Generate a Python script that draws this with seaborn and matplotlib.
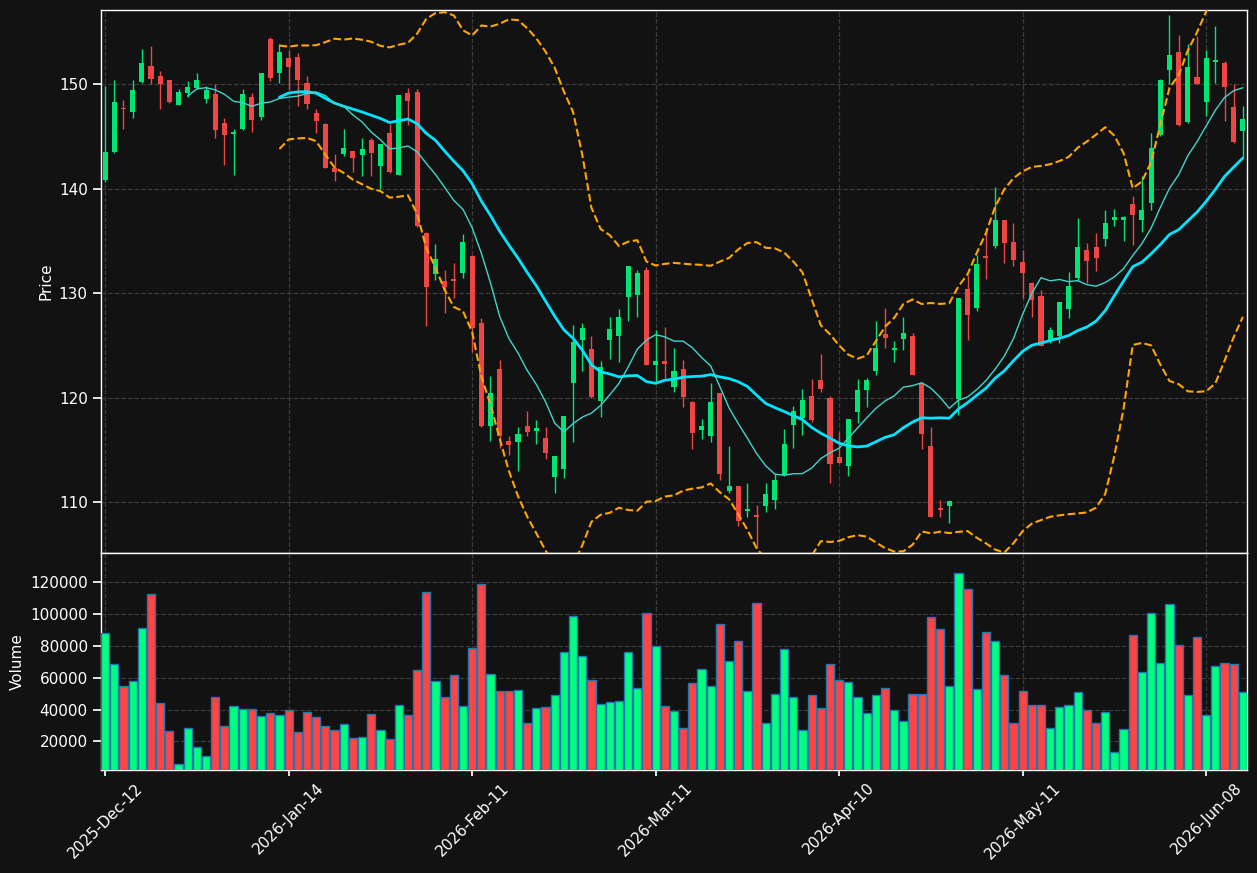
import numpy as np
import pandas as pd
import matplotlib
matplotlib.use("Agg")
import matplotlib.pyplot as plt
import seaborn as sns
from matplotlib.ticker import FuncFormatter

# -------------------- data --------------------
opens = [140.8, 143.5, 147.75, 147.3, 150.2, 151.7, 150.8, 150.4, 148.0, 149.2,
         149.6, 148.6, 149.1, 146.3, 145.2, 145.7, 148.8, 146.9, 154.3, 151.1,
         152.5, 152.6, 150.1, 147.2, 146.2, 142.0, 143.3, 143.6, 143.2, 144.7,
         142.2, 145.3, 141.3, 149.2, 149.3, 135.8, 131.8, 131.2, 131.4, 131.9,
         133.6, 127.2, 117.3, 122.8, 115.9, 115.8, 117.3, 116.8, 116.2, 112.4,
         113.2, 121.4, 125.5, 124.7, 119.7, 125.5, 125.9, 129.6, 129.8, 132.2,
         123.1, 123.5, 121.0, 122.8, 119.6, 116.9, 116.3, 120.5, 111.1, 111.6,
         109.2, 108.8, 109.6, 110.2, 112.6, 117.4, 118.1, 120.2, 121.7, 120.0,
         114.3, 113.5, 118.6, 120.7, 122.6, 126.1, 124.6, 125.6, 125.9, 121.4,
         115.4, 109.5, 109.6, 119.9, 130.4, 128.6, 133.6, 134.5, 137.0, 134.9,
         133.0, 131.0, 129.7, 125.4, 125.9, 128.5, 131.5, 134.1, 134.4, 135.2,
         137.0, 137.0, 138.5, 137.0, 138.6, 145.1, 151.4, 153.1, 146.4, 150.7,
         148.3, 152.1, 152.0, 147.8, 145.5]
highs = [149.8, 150.4, 148.5, 150.4, 153.4, 153.7, 151.3, 150.45, 149.5, 150.3,
         151.1, 149.8, 150.0, 146.8, 145.7, 149.5, 149.2, 151.1, 154.5, 153.8,
         153.3, 153.0, 150.8, 147.6, 146.3, 143.3, 145.7, 143.6, 144.9, 144.9,
         144.3, 146.2, 149.0, 149.6, 149.5, 135.9, 134.7, 132.2, 132.9, 135.7,
         133.7, 127.6, 122.1, 123.6, 116.3, 117.2, 118.7, 117.9, 117.2, 114.4,
         118.3, 127.0, 127.2, 125.9, 123.5, 127.7, 128.5, 132.6, 132.2, 132.5,
         126.5, 126.8, 124.8, 123.6, 119.7, 118.0, 121.4, 120.5, 115.4, 111.6,
         111.8, 109.7, 111.8, 112.7, 117.0, 119.2, 120.8, 121.8, 124.2, 120.2,
         116.7, 118.0, 121.8, 121.9, 127.3, 128.6, 125.4, 127.7, 126.2, 121.4,
         117.2, 110.2, 110.1, 129.5, 131.7, 133.7, 136.2, 140.2, 137.0, 136.7,
         134.1, 131.1, 130.3, 126.8, 129.2, 132.0, 137.2, 134.8, 135.8, 138.0,
         138.1, 137.35, 139.3, 141.2, 145.3, 150.5, 156.6, 154.7, 153.8, 154.6,
         153.3, 155.6, 152.2, 150.0, 147.9]
lows = [140.6, 143.4, 145.7, 146.8, 150.1, 150.0, 147.6, 148.2, 148.0, 148.8,
        149.5, 148.2, 144.9, 142.3, 141.3, 145.6, 145.4, 146.6, 150.3, 150.1,
        149.4, 147.9, 147.6, 145.3, 142.0, 140.7, 143.1, 141.6, 141.2, 141.2,
        140.0, 141.5, 141.3, 146.1, 136.3, 126.9, 131.3, 128.1, 129.5, 131.5,
        124.4, 117.2, 115.9, 115.2, 114.5, 113.0, 116.3, 115.6, 114.1, 110.9,
        112.3, 115.8, 122.6, 120.0, 118.2, 123.7, 123.4, 127.3, 127.7, 123.1,
        121.5, 121.9, 120.6, 119.1, 115.1, 116.1, 115.8, 112.1, 110.9, 107.7,
        108.6, 105.6, 109.1, 109.4, 112.5, 115.2, 116.4, 117.7, 120.6, 111.8,
        113.8, 112.5, 117.6, 119.1, 122.2, 124.8, 123.4, 124.6, 122.2, 115.1,
        108.6, 108.6, 108.0, 118.4, 125.5, 128.3, 131.4, 134.3, 132.9, 132.6,
        129.5, 127.7, 125.0, 125.2, 125.2, 127.6, 131.2, 131.0, 132.1, 134.5,
        136.4, 135.0, 134.6, 135.9, 138.0, 145.0, 150.0, 146.0, 146.3, 150.0,
        147.0, 150.1, 146.5, 144.4, 143.0]
closes = [143.5, 148.3, 147.65, 149.4, 152.0, 150.5, 150.0, 148.3, 149.3, 149.7,
          150.4, 149.4, 145.6, 145.1, 145.4, 149.1, 146.6, 151.1, 150.6, 153.1,
          151.6, 150.4, 148.1, 146.5, 142.0, 141.6, 143.9, 142.9, 143.8, 143.4,
          144.3, 141.6, 149.0, 148.4, 136.4, 130.6, 133.3, 130.6, 131.2, 134.9,
          126.7, 117.3, 120.5, 116.3, 115.5, 116.5, 116.7, 117.1, 114.7, 114.4,
          118.3, 125.3, 126.7, 120.1, 122.9, 126.6, 127.7, 132.6, 131.9, 123.1,
          123.5, 123.2, 122.6, 120.1, 116.6, 117.3, 119.6, 112.7, 111.6, 108.2,
          109.4, 108.6, 110.8, 112.1, 115.6, 118.7, 119.8, 117.9, 120.8, 113.7,
          113.8, 118.0, 120.7, 121.7, 124.8, 125.7, 124.8, 126.2, 122.2, 116.5,
          108.6, 109.3, 110.1, 129.5, 127.9, 132.8, 133.4, 137.0, 134.8, 133.2,
          131.9, 129.4, 125.0, 126.5, 129.2, 130.7, 134.4, 133.1, 133.4, 136.7,
          137.3, 137.3, 137.5, 138.0, 143.9, 150.4, 152.8, 146.1, 151.6, 150.0,
          152.5, 152.3, 149.7, 144.5, 146.7]
volumes = [87900, 68400, 54600, 57700, 91100, 112500, 43900, 26300, 5500, 28200,
           16200, 10600, 47900, 29600, 42200, 40100, 40100, 35700, 37600, 36400,
           39500, 25900, 38200, 35100, 29400, 26900, 30700, 21900, 22500, 37000,
           26900, 21300, 42800, 36400, 64700, 113700, 57700, 47900, 61500, 42000,
           78500, 118700, 62100, 51400, 51400, 52100, 31300, 40800, 41400, 48900,
           76000, 98600, 73500, 58400, 43300, 44500, 45200, 76000, 53300, 100500,
           79700, 42000, 38900, 28200, 56500, 65300, 54600, 93600, 70300, 82900,
           51400, 106800, 31300, 49600, 77900, 47700, 26900, 48900, 40800, 68400,
           58400, 57100, 47700, 37600, 48900, 53300, 39500, 32600, 49600, 49600,
           98000, 90400, 54600, 125700, 115600, 52700, 88600, 82900, 61500, 31300,
           51400, 42600, 42600, 28200, 41400, 42600, 50800, 39500, 31300, 38200,
           13100, 27500, 86700, 63400, 100500, 69300, 106200, 80400, 48900, 85400,
           36400, 67200, 69300, 68400, 50800]
tick_pos = [0, 20, 40, 60, 80, 100, 120]
tick_labels = ["2025-Dec-12", "2026-Jan-14", "2026-Feb-11", "2026-Mar-11",
               "2026-Apr-10", "2026-May-11", "2026-Jun-08"]

# -------------------- style --------------------
BG = "#121212"
UP, DOWN = "#00e676", "#f04545"
VUP, VDOWN = "#00ff7f", "#ff4444"

sns.set_theme(style="darkgrid", rc={
    "axes.facecolor": BG, "figure.facecolor": BG,
    "axes.edgecolor": "white", "axes.labelcolor": "white",
    "xtick.color": "white", "ytick.color": "white",
    "grid.color": "#3a3a3a", "grid.linestyle": "--", "grid.linewidth": 0.9,
    "xtick.bottom": True, "ytick.left": True,
})
plt.rcParams["font.family"] = ["DejaVu Sans"]

df = pd.DataFrame({"open": opens, "high": highs, "low": lows,
                   "close": closes, "volume": volumes})
df["idx"] = np.arange(len(df))
df["ma10"] = df["close"].rolling(10).mean()
df["ma20"] = df["close"].rolling(20).mean()
sd = df["close"].rolling(20).std()
df["bb_up"] = df["ma20"] + 2 * sd
df["bb_lo"] = df["ma20"] - 2 * sd
up = df["close"] >= df["open"]

fig = plt.figure(figsize=(12.57, 8.73), dpi=100)
ax = fig.add_axes([101 / 1257, 1 - 553 / 873, 1146 / 1257, 543 / 873])
axv = fig.add_axes([101 / 1257, 1 - 770 / 873, 1146 / 1257, 217 / 873], sharex=ax)

# -------- candles --------
ccol = np.where(up, UP, DOWN)
ax.vlines(df["idx"], df["low"], df["high"], colors=ccol, linewidth=1.0, zorder=3)
body_lo = np.minimum(df["open"], df["close"])
body_h = np.maximum((df["close"] - df["open"]).abs(), 0.12)
ax.bar(df["idx"], body_h, bottom=body_lo, width=0.55, color=ccol, linewidth=0, zorder=4)

# -------- indicators --------
ind = df.dropna(subset=["ma20"])
sns.lineplot(data=ind, x="idx", y="bb_up", ax=ax, color="orange", linestyle="--",
             linewidth=1.5, zorder=5)
sns.lineplot(data=ind, x="idx", y="bb_lo", ax=ax, color="orange", linestyle="--",
             linewidth=1.5, zorder=5)
sns.lineplot(data=ind, x="idx", y="ma20", ax=ax, color="#00e5ff", linewidth=2.0, zorder=6)
sns.lineplot(data=df.dropna(subset=["ma10"]), x="idx", y="ma10", ax=ax,
             color="#3fd6cc", linewidth=1.0, zorder=6)

ax.set_ylim(df["low"].min() - 0.45, df["high"].max() + 0.5)
ax.set_ylabel("Price", fontsize=11)
ax.set_xlabel("")
ax.tick_params(axis="x", labelbottom=False, length=0)
ax.tick_params(axis="y", labelsize=11)
ax.grid(True)

# -------- volume --------
vcol = np.where(up, VUP, VDOWN)
axv.bar(df["idx"], df["volume"], width=0.9, color=vcol, edgecolor="#1f77b4",
        linewidth=1.0, zorder=3)
axv.set_ylim(2000, 138300)
axv.set_ylabel("Volume", fontsize=11)
axv.yaxis.set_major_formatter(FuncFormatter(lambda v, p: f"{int(v)}"))
axv.set_yticks([20000, 40000, 60000, 80000, 100000, 120000])
axv.tick_params(axis="y", labelsize=11)
axv.set_xticks(tick_pos)
axv.set_xticklabels(tick_labels, rotation=45, fontsize=11)
axv.tick_params(axis="x", length=4)
axv.set_xlim(-0.45, len(df) - 0.55)
axv.grid(True)

for a in (ax, axv):
    for s in a.spines.values():
        s.set_color("white")
        s.set_linewidth(1.0)

fig.savefig("out.png", dpi=100, facecolor=BG)
